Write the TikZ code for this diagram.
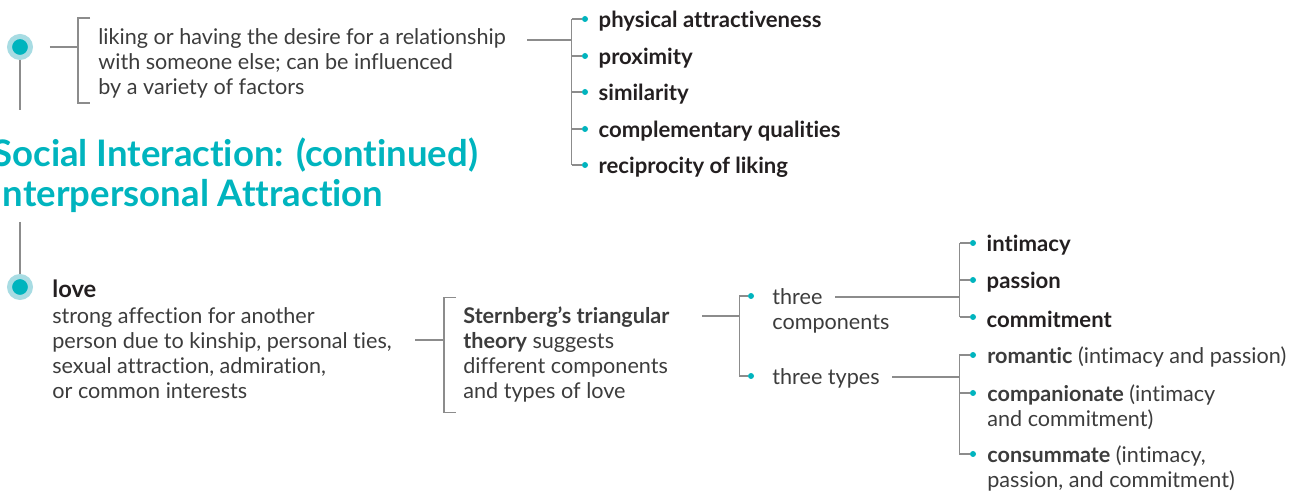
\documentclass[tikz,border=0pt]{standalone}
\usepackage{fontspec}
\setmainfont{Lato}[Ligatures=NoCommon]
\usetikzlibrary{positioning, calc}
\definecolor{ptteal}{RGB}{0, 180, 190}
\definecolor{ptring}{RGB}{168, 220, 227}
\definecolor{ptgray}{RGB}{140, 140, 140}
\definecolor{pttext}{RGB}{60, 60, 60}
\definecolor{ptdark}{RGB}{35, 31, 32}

\begin{document}
\begin{tikzpicture}[
    x=0.02cm, y=-0.02cm,
    link/.style={draw=ptgray, line width=0.7pt},
    hub/.style={circle, fill=ptteal, draw=ptring, line width=0.1cm, minimum size=0.42cm, inner sep=0},
    dot/.style={circle, fill=ptteal, minimum size=0.12cm, inner sep=0},
    body/.style={anchor=west, align=left, inner sep=0, yshift=-0.04cm, text=pttext, font=\fontsize{12.3}{14.2}\selectfont},
    item/.style={anchor=west, inner sep=0, yshift=-0.04cm, text=ptdark, font=\bfseries\fontsize{12.6}{14.2}\selectfont},
    heading/.style={anchor=west, align=left, inner sep=0, text=ptteal, font=\bfseries\fontsize{20.8}{22.5}\selectfont}
]
\useasboundingbox (0,0) rectangle (1304,492);

% Atraccion: definicion
\node[hub] (attr) at (20,47) {};
\coordinate (attrtail) at (20,110);
\draw[link] (attr) -- (attrtail);
\node[body] (attrdef) at (98,61) {liking or having the desire for a relationship\\with someone else; can be influenced\\by a variety of factors};
\coordinate (attrbr) at ($(98,61)+(-20,0)$);
\draw[link] ($(attrbr)+(12,-43)$) -| (attrbr) |- ($(attrbr)+(12,42)$);
\draw[link] ($(attr.east)+(17,0)$) -- (attr -| attrbr);

% Factores
\foreach \y/\t [count=\i] in {19/physical attractiveness, 56/proximity, 92/similarity,
    129/complementary qualities, 165/reciprocity of liking} {
    \node[dot] (f\i) at (585,\y) {};
    \node[item, right=0.2cm of f\i] (fact\i) {\t};
    \draw[link] (f\i.west) -- ++(-10,0);
}
\coordinate (ftrunk) at ($(f1.west)+(-10,0)$);
\coordinate (fstem) at (527,40);
\draw[link] (ftrunk) -- (ftrunk |- f5);
\draw[link] (fstem) -- (fstem -| ftrunk);

% Titulo
\node[heading] (topic) at (-8,175) {Social Interaction: (continued)\\Interpersonal Attraction};

% Amor
\coordinate (lovetail) at (20,222);
\node[hub] (love) at (20,287) {};
\draw[link] (lovetail) -- (love);
\node[item, font=\bfseries\fontsize{13.5}{14.2}\selectfont] (lovehead) at (52,287) {love};
\node[body] (lovedef) at (52,351.5) {strong affection for another\\person due to kinship, personal ties,\\sexual attraction, admiration,\\or common interests};

% Teoria de Sternberg
\node[body] (theory) at (463,352.5) {\textbf{Sternberg’s triangular}\\\textbf{theory} suggests\\different components\\and types of love};
\coordinate (thbr) at (444,352.5);
\draw[link] ($(thbr)+(12,-55)$) -| (thbr) |- ($(thbr)+(12,60)$);
\coordinate (lovestem) at (415,340);
\draw[link] (lovestem) -- (lovestem -| thbr);

\node[dot] (c1) at (751,296) {};
\node[dot] (c2) at (751,376) {};
\node[body] (comp) at (772,308.5) {three\\components};
\node[body] (types) at (772,376) {three types};
\coordinate (cbr) at ($(c1.west)+(-8,0)$);
\draw[link] (c1.west) -- (cbr) |- (c2.west);
\coordinate (thstem) at (702,316);
\draw[link] (thstem) -- (thstem -| cbr);

% Componentes
\foreach \y/\t [count=\i] in {243/intimacy, 280/passion, 317/commitment} {
    \node[dot] (k\i) at (973,\y) {};
    \node[item, right=0.2cm of k\i] (kname\i) {\t};
    \draw[link] (k\i.west) -- ++(-10,0);
}
\coordinate (ktrunk) at ($(k1.west)+(-10,0)$);
\coordinate (kstem) at (835,297);
\draw[link] (ktrunk) -- (ktrunk |- k3);
\draw[link] (kstem) -- (kstem -| ktrunk);

% Tipos
\node[dot] (t1) at (973,355) {};
\node[dot] (t2) at (973,393) {};
\node[dot] (t3) at (973,454) {};
\node[body] (romantic) at (987,355) {\textbf{romantic} (intimacy and passion)};
\node[body] (compan) at (987,405.5) {\textbf{companionate} (intimacy\\and commitment)};
\node[body] (consum) at (987,466.5) {\textbf{consummate} (intimacy,\\passion, and commitment)};
\coordinate (ttrunk) at ($(t1.west)+(-10,0)$);
\coordinate (tstem) at (892,377);
\draw[link] (t1.west) -- (ttrunk) |- (t3.west);
\draw[link] (t2.west) -- (t2.west -| ttrunk);
\draw[link] (tstem) -- (tstem -| ttrunk);

\end{tikzpicture}
\end{document}
